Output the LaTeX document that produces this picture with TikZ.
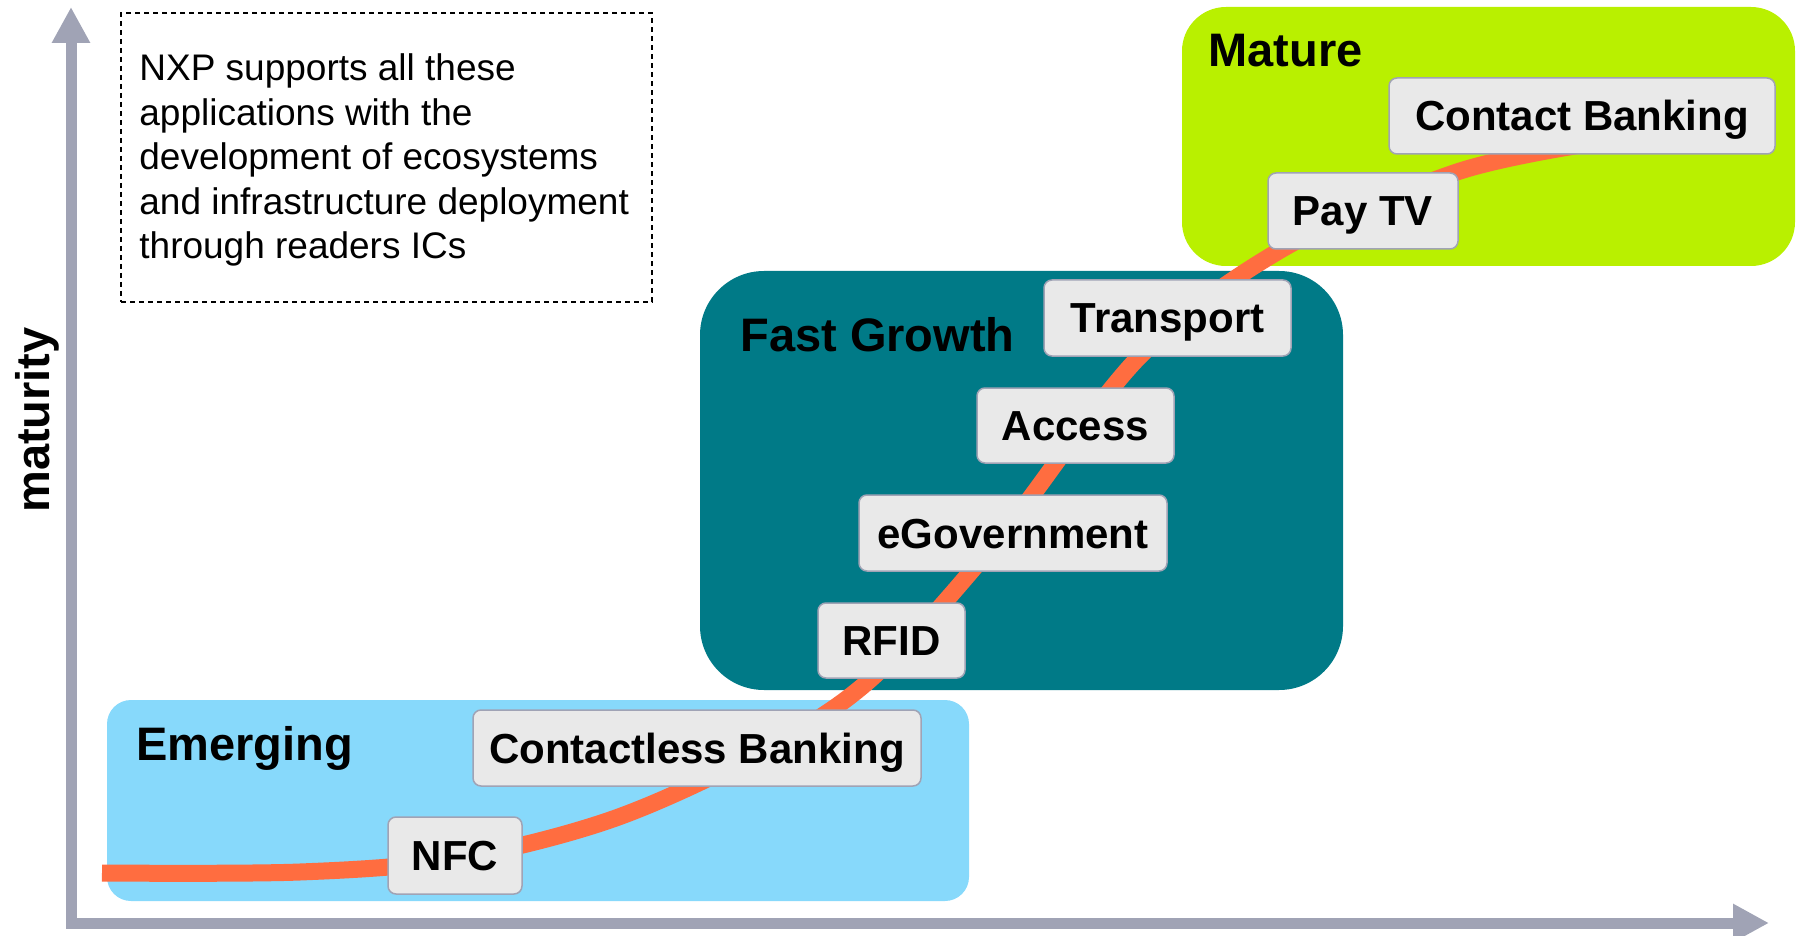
\documentclass[tikz,border=0pt]{standalone}
\usepackage{fontspec}
\setmainfont{Liberation Sans}
\usetikzlibrary{arrows.meta}
\definecolor{axisgray}{RGB}{160,163,181}
\definecolor{emerge}{RGB}{135,217,251}
\definecolor{fastteal}{RGB}{0,122,135}
\definecolor{maturelime}{RGB}{185,240,0}
\definecolor{boxfill}{RGB}{233,233,233}
\definecolor{boxborder}{RGB}{160,163,181}
\definecolor{curveorange}{RGB}{255,109,64}
\begin{document}
\begin{tikzpicture}[x=0.5pt,y=-0.5pt,
  region/.style={rectangle, inner sep=0pt, outer sep=0pt},
  title/.style={font=\bfseries\fontsize{23.5pt}{28pt}\selectfont, inner sep=0pt, anchor=base west},
  lbl/.style={rectangle, draw=boxborder, fill=boxfill, line width=0.75pt, rounded corners=4pt,
    font=\bfseries\fontsize{21pt}{25pt}\selectfont, text height=15pt, text depth=0pt,
    inner sep=0pt, minimum height=38pt},
  notebox/.style={rectangle, draw=black, line width=0.7pt, dash pattern=on 2.6pt off 1.9pt,
    minimum width=265.5pt, minimum height=144.5pt, inner sep=0pt},
  notetext/.style={font=\fontsize{18.5pt}{22.25pt}\selectfont, align=left, inner sep=0pt, anchor=north west},
  axis/.style={draw=axisgray, line width=5.5pt, line join=miter,
    {Triangle[length=18pt,width=18pt]}-{Triangle[length=18pt,width=18pt]}},
  scurve/.style={draw=curveorange, line width=8.5pt, line cap=butt}
]
\useasboundingbox (0,0) rectangle (1799,936);

% axes
\coordinate (ytip) at (71,7);
\coordinate (origin) at (71,923);
\coordinate (xtip) at (1769,923);
\draw[axis] (ytip) -- (origin) -- (xtip);
\node[title, rotate=90, anchor=base] (ylabel) at (49,420) {maturity};

% note
\node[notebox] (note) at (386.5,157.5) {};
\node[notetext] (notetext) at (139,53.5) {NXP supports all these\\applications with the\\development of ecosystems\\and infrastructure deployment\\through readers ICs};

% regions
\node[region, fill=emerge, rounded corners=12pt, minimum width=431pt, minimum height=100.5pt] (emerging) at (538,800.5) {};
\node[region, fill=fastteal, rounded corners=32pt, minimum width=321.5pt, minimum height=209.5pt] (fast) at (1021.5,480.5) {};
\node[region, fill=maturelime, rounded corners=22pt, minimum width=306.5pt, minimum height=129.5pt] (mature) at (1488.5,136.5) {};

\node[title] (temerging) at (136,760) {Emerging};
\node[title] (tfast) at (740,351) {Fast Growth};
\node[title] (tmature) at (1208,67) {Mature};

% adoption curve
\draw[scurve] plot[smooth, tension=0.55] coordinates {
 (102,873) (300,872) (455,859) (613,819) (760,752) (872,678)
 (1000,537) (1140,356) (1284,248) (1457,172) (1600,142)};

% application labels
\node[lbl, minimum width=67pt, minimum height=38.5pt] (nfc) at (455,855.5) {NFC};
\node[lbl, minimum width=224pt] (cless) at (697,748) {Contactless Banking};
\node[lbl, minimum width=73.5pt, minimum height=37.5pt] (rfid) at (891.5,640.5) {RFID};
\node[lbl, minimum width=154pt] (egov) at (1013,533) {eGovernment};
\node[lbl, minimum width=98.5pt, minimum height=37.5pt] (access) at (1075.5,425.5) {Access};
\node[lbl, minimum width=123.5pt] (transport) at (1167.5,318) {Transport};
\node[lbl, minimum width=95pt] (paytv) at (1363,211) {Pay TV};
\node[lbl, minimum width=193pt] (cbank) at (1582,116) {Contact Banking};
\end{tikzpicture}
\end{document}
